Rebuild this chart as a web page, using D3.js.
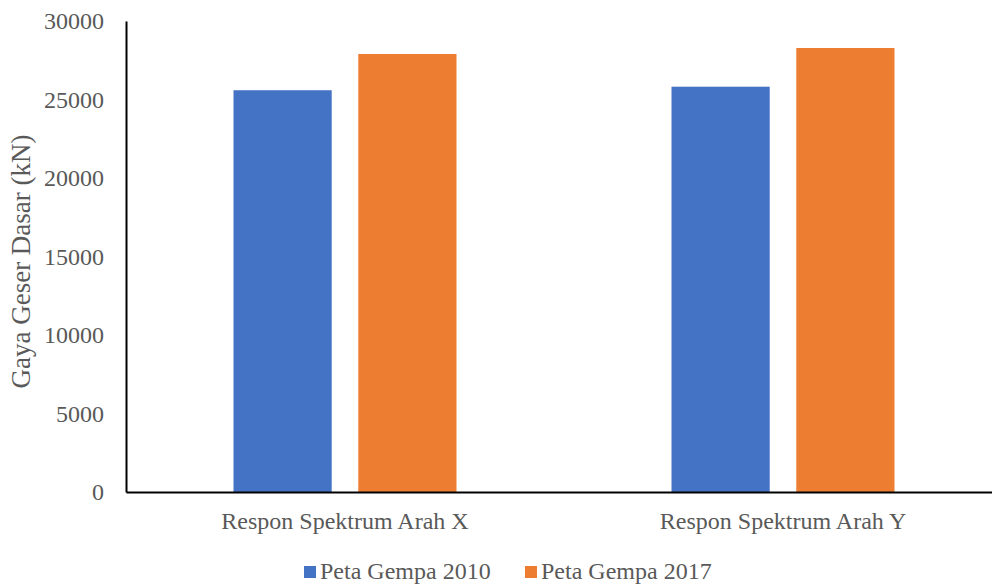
<!DOCTYPE html>
<html>
<head>
<meta charset="utf-8">
<script src="https://cdn.jsdelivr.net/npm/d3@7"></script>
<style>
  html, body { margin: 0; padding: 0; background: #fff; }
  svg { display: block; }
  text { font-family: "Liberation Serif", "Times New Roman", serif; fill: #595959; }
</style>
</head>
<body>
<svg id="chart" width="992" height="585"></svg>
<script>
// Base shear per response-spectrum direction, for the two seismic hazard maps
const categories = ["Respon Spektrum Arah X", "Respon Spektrum Arah Y"];
const seriesNames = ["Peta Gempa 2010", "Peta Gempa 2017"];
const peta2010 = [25590, 25815];
const peta2017 = [27900, 28280];
const yTicks = [0, 5000, 10000, 15000, 20000, 25000, 30000];
const colors = ["#4472C4", "#ED7D31"];

const series = [peta2010, peta2017];

const svg = d3.select("#chart");
const plotLeft = 126, plotRight = 1002, plotTop = 21, plotBottom = 492;
const groupWidth = 223;
const fontSize = 24;

const x = d3.scaleBand().domain(categories).range([plotLeft, plotRight]).paddingInner(0).paddingOuter(0);
const xInner = d3.scaleBand().domain(seriesNames).range([0, groupWidth]).paddingInner(0.213).paddingOuter(0);
const y = d3.scaleLinear().domain([0, 30000]).range([plotBottom, plotTop]);

// Bars
categories.forEach((cat, ci) => {
  const g = svg.append("g").attr("transform", `translate(${x(cat) + (x.bandwidth() - groupWidth) / 2},0)`);
  seriesNames.forEach((s, si) => {
    const v = series[si][ci];
    g.append("rect")
      .attr("x", xInner(s))
      .attr("width", xInner.bandwidth())
      .attr("y", y(v))
      .attr("height", y(0) - y(v))
      .attr("fill", colors[si]);
  });
});

// Y axis
const yAxis = d3.axisLeft(y).tickValues(yTicks).tickSize(0).tickPadding(22).tickFormat(d3.format("d"));
const gy = svg.append("g").attr("transform", `translate(${plotLeft},0)`).call(yAxis);
gy.select(".domain").attr("stroke", "#000").attr("stroke-width", 2);
gy.selectAll("text").attr("font-size", fontSize).style("fill", "#595959")
  .style("font-family", "Liberation Serif, Times New Roman, serif");

// X axis
const xAxis = d3.axisBottom(x).tickSize(0).tickPadding(20);
const gx = svg.append("g").attr("transform", `translate(0,${plotBottom})`).call(xAxis);
gx.select(".domain").attr("stroke", "#000").attr("stroke-width", 2);
gx.selectAll("text").attr("font-size", fontSize).style("fill", "#595959")
  .style("font-family", "Liberation Serif, Times New Roman, serif");

// Y axis title
svg.append("text")
  .attr("transform", "translate(30,261.5) rotate(-90)")
  .attr("text-anchor", "middle")
  .attr("font-size", 27)
  .text("Gaya Geser Dasar (kN)");

// Legend
const legendItems = [
  { name: seriesNames[0], color: colors[0], x: 304 },
  { name: seriesNames[1], color: colors[1], x: 525 }
];
legendItems.forEach(item => {
  svg.append("rect").attr("x", item.x).attr("y", 566).attr("width", 12).attr("height", 12).attr("fill", item.color);
  svg.append("text").attr("x", item.x + 16).attr("y", 579).attr("font-size", fontSize).text(item.name);
});
</script>
</body>
</html>
